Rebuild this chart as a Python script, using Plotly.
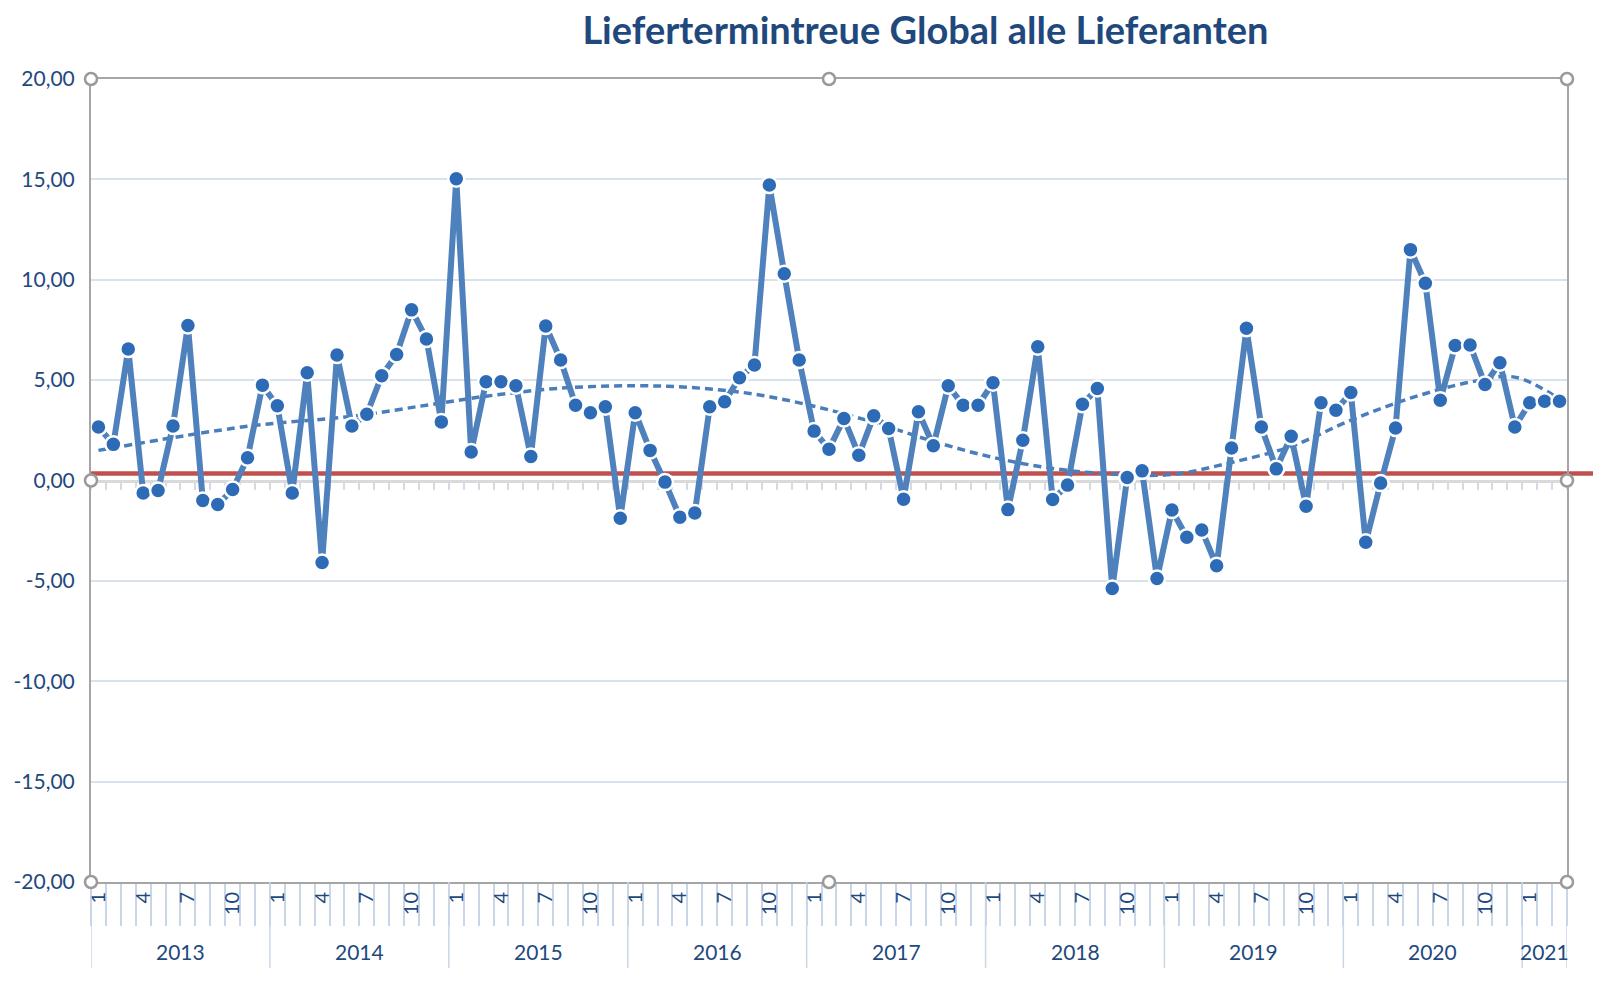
import plotly.graph_objects as go

# Daten: Liefertermintreue je Monat (Jan 2013 - Mar 2021)
first_year = 2013
years = [2013, 2014, 2015, 2016, 2017, 2018, 2019, 2020, 2021]
werte = [
    2.67, 1.80, 6.55, -0.62, -0.50, 2.72, 7.72, -1.00, -1.20, -0.45, 1.13, 4.75,   # 2013
    3.72, -0.62, 5.37, -4.08, 6.25, 2.72, 3.30, 5.22, 6.28, 8.50, 7.05, 2.92,      # 2014
    15.03, 1.42, 4.92, 4.92, 4.72, 1.20, 7.70, 6.00, 3.75, 3.37, 3.67, -1.88,      # 2015
    3.38, 1.50, -0.08, -1.83, -1.62, 3.67, 3.92, 5.12, 5.75, 14.72, 10.30, 6.00,   # 2016
    2.46, 1.56, 3.09, 1.26, 3.22, 2.59, -0.93, 3.42, 1.73, 4.72, 3.75, 3.75,       # 2017
    4.87, -1.45, 2.01, 6.66, -0.95, -0.23, 3.80, 4.58, -5.38, 0.15, 0.48, -4.88,   # 2018
    -1.47, -2.83, -2.47, -4.25, 1.62, 7.58, 2.67, 0.58, 2.20, -1.28, 3.87, 3.50,   # 2019
    4.38, -3.08, -0.13, 2.62, 11.50, 9.83, 4.00, 6.72, 6.75, 4.78, 5.87, 2.67,     # 2020
    3.87, 3.95, 3.95,                                                              # 2021
]

trend_idx = [0, 10, 17, 22, 26, 31, 36, 40, 44, 48, 52, 56, 60, 64, 68, 72, 76, 80, 84, 88, 92, 95, 98]
trend_val = [1.5, 2.7, 3.2, 3.75, 4.2, 4.6, 4.72, 4.62, 4.3, 3.7, 2.9, 1.95, 1.15, 0.6, 0.32, 0.3,
             0.9, 1.7, 3.0, 4.1, 4.9, 5.15, 4.05]

zielwert = 0.35
monat_labels = [1, 4, 7, 10]
y_ticks = [-20, -15, -10, -5, 0, 5, 10, 15, 20]

n = len(werte)
x = list(range(n))
monate = [i % 12 + 1 for i in x]
jahr = [first_year + i // 12 for i in x]

text_col = "#1F497D"
font_fam = "Lato"

fig = go.Figure()

fig.add_trace(go.Scatter(
    x=trend_idx, y=trend_val, mode="lines", line_shape="spline",
    line=dict(color="#4A7EBB", width=3.5, dash="8px,5px"),
    hoverinfo="skip", showlegend=False,
))

fig.add_trace(go.Scatter(
    x=x, y=werte, mode="lines+markers", xaxis="x2",
    line=dict(color="#4F81BD", width=6),
    marker=dict(size=16, color="#2E6BB6", line=dict(color="white", width=2.5)),
    customdata=list(zip(jahr, monate)),
    hovertemplate="%{customdata[1]}/%{customdata[0]}: %{y:.2f}<extra></extra>",
    showlegend=False,
))

tick_x = [i for i in x if monate[i] in monat_labels]
tick_t = [str(monate[i]) for i in tick_x]
grenzen = [i - 0.5 for i in range(n + 1)]
y_text = [f"{v:.2f}".replace(".", ",") for v in y_ticks]

shapes = []
# Zielwert-Linie
shapes.append(dict(type="line", xref="paper", yref="y", x0=0, x1=1.06,
                   y0=zielwert, y1=zielwert, line=dict(color="#C0504D", width=4.5),
                   layer="below"))

# Jahres-Trennlinien und Beschriftung
annotations = []
for y in years:
    idx = [i for i in x if jahr[i] == y]
    shapes.append(dict(type="line", xref="x", yref="paper", x0=idx[0] - 0.5, x1=idx[0] - 0.5,
                       y0=0, y1=-0.107, line=dict(color="#C9D6E8", width=1.5)))
    annotations.append(dict(x=(idx[0] + idx[-1]) / 2, y=-0.087, xref="x", yref="paper",
                            text=str(y), showarrow=False, yanchor="middle",
                            font=dict(size=21, color=text_col, family=font_fam)))
shapes.append(dict(type="line", xref="x", yref="paper", x0=n - 0.5, x1=n - 0.5,
                   y0=0, y1=-0.107, line=dict(color="#C9D6E8", width=1.5)))

# Markierungspunkte am Diagrammrahmen
for xa, ya in [(0, 0), (0.5, 0), (1, 0), (0, 0.5), (1, 0.5), (0, 1), (0.5, 1), (1, 1)]:
    shapes.append(dict(type="circle", xref="paper", yref="paper",
                       xsizemode="pixel", ysizemode="pixel", xanchor=xa, yanchor=ya,
                       x0=-6, x1=6, y0=-6, y1=6, fillcolor="white",
                       line=dict(color="#9A9A9A", width=2.5), layer="above"))

fig.update_layout(
    width=1601, height=986,
    margin=dict(l=83, r=42, t=71, b=112),
    paper_bgcolor="white", plot_bgcolor="white",
    font=dict(family=font_fam, color=text_col, size=20),
    title=dict(text="<b>Liefertermintreue Global alle Lieferanten</b>",
               x=0.573, xanchor="center", y=0.977, yanchor="middle",
               font=dict(size=38, color=text_col, family=font_fam)),
    xaxis=dict(range=[-0.5, n - 0.5], tickvals=tick_x, ticktext=tick_t, tickangle=-90,
               ticks="", showgrid=False, zeroline=False, automargin=False,
               showline=True, linecolor="#A6A6A6", linewidth=2, mirror=True,
               tickfont=dict(size=20, color=text_col),
               minor=dict(tickvals=grenzen, ticks="outside", ticklen=42,
                          tickcolor="#C9D6E8", tickwidth=1.5, showgrid=False)),
    xaxis2=dict(matches="x", overlaying="x", anchor="free", position=0.5,
                showticklabels=False, showgrid=False, zeroline=False, automargin=False,
                showline=True, linecolor="#DADADA", linewidth=3, layer="below traces",
                tickvals=grenzen, ticks="outside", ticklen=7, tickcolor="#D3DBE6", tickwidth=1.5),
    yaxis=dict(range=[-20, 20], tickvals=y_ticks, ticktext=y_text, ticks="",
               ticklabelstandoff=10, automargin=False,
               showgrid=True, gridcolor="#D9E1EC", gridwidth=1.5, zeroline=False,
               showline=True, linecolor="#A6A6A6", linewidth=2, mirror=True,
               tickfont=dict(size=21, color=text_col)),
    shapes=shapes,
    annotations=annotations,
)

fig.write_html("out.html")
